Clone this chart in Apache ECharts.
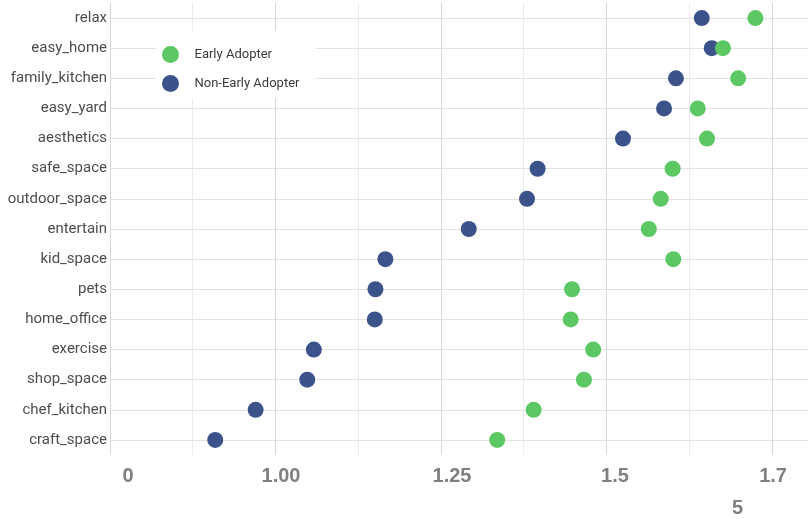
<!DOCTYPE html>
<html><head><meta charset="utf-8">
<script src="https://cdn.jsdelivr.net/npm/echarts@6/dist/echarts.min.js"></script>
<style>html,body{margin:0;padding:0;background:#fff}#c{width:808px;height:519px}</style>
</head><body><div id="c"></div>
<script>
const categories = ["relax","easy_home","family_kitchen","easy_yard","aesthetics","safe_space","outdoor_space","entertain","kid_space","pets","home_office","exercise","shop_space","chef_kitchen","craft_space"];
const earlyAdopter = [1.725,1.676,1.699,1.638,1.652,1.600,1.582,1.564,1.601,1.448,1.446,1.480,1.466,1.390,1.335];
const nonEarlyAdopter = [1.644,1.659,1.605,1.587,1.525,1.396,1.380,1.292,1.166,1.151,1.150,1.058,1.048,0.970,0.909];
const tickValues = [0.7772, 1.0083, 1.2667, 1.5129, 1.7517, 1.698];
const tickLabels = ["0", "1.00", "1.25", "1.5", "1.7", "\n5"];

const chart = echarts.init(document.getElementById('c'), null, {renderer: 'canvas'});
const pair = arr => arr.map((v, i) => [v, categories[i]]);
chart.setOption({
  animation: false,
  backgroundColor: '#ffffff',
  grid: {left: 110, right: 0, top: 3, bottom: 64, containLabel: false, outerBoundsMode: 'none'},
  legend: {
    data: ['Early Adopter', 'Non-Early Adopter'],
    orient: 'vertical',
    left: 156, top: 31,
    padding: [15, 16, 6, 6],
    itemGap: 12,
    itemWidth: 38, itemHeight: 17,
    icon: 'circle',
    backgroundColor: '#ffffff',
    textStyle: {fontFamily: 'Roboto', fontSize: 13, color: '#3a3a3a'}
  },
  xAxis: {
    type: 'value', min: 0.75, max: 1.8045, interval: 0.25,
    axisLine: {show: false}, axisTick: {show: false},
    splitLine: {show: true, lineStyle: {color: '#d6d6d6', width: 1}},
    minorTick: {show: false, splitNumber: 2},
    minorSplitLine: {show: true, lineStyle: {color: '#ebebeb', width: 1}},
    axisLabel: {
      customValues: tickValues,
      formatter: function (v) {
        let best = 0, d = 1e9;
        tickValues.forEach((t, i) => { if (Math.abs(t - v) < d) { d = Math.abs(t - v); best = i; } });
        return tickLabels[best];
      },
      fontFamily: 'Liberation Sans', fontWeight: 'bold', fontSize: 20, color: '#7f7f7f',
      lineHeight: 32, margin: 5, hideOverlap: false
    }
  },
  yAxis: {
    type: 'category', data: categories, inverse: true,
    axisLine: {show: false}, axisTick: {show: false},
    splitLine: {show: true, alignWithLabel: true, lineStyle: {color: '#e2e2e2', width: 1}},
    axisLabel: {fontFamily: 'Roboto', fontSize: 15, color: '#4d4d4d', margin: 3}
  },
  series: [
    {name: 'Non-Early Adopter', type: 'scatter', data: pair(nonEarlyAdopter), symbolSize: 16,
     itemStyle: {color: '#3B528B', opacity: 1}, z: 3},
    {name: 'Early Adopter', type: 'scatter', data: pair(earlyAdopter), symbolSize: 16,
     itemStyle: {color: '#5CC863', opacity: 1}, z: 4}
  ]
});
</script>
</body></html>
